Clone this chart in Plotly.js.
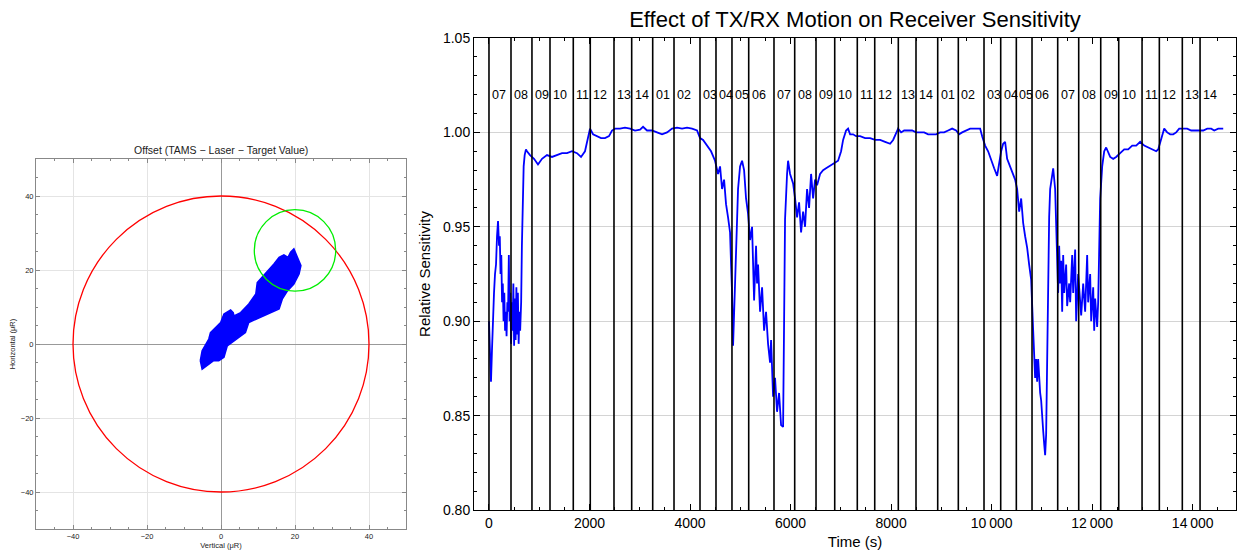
<!DOCTYPE html>
<html><head><meta charset="utf-8">
<script src="https://cdn.plot.ly/plotly-3.0.1.min.js"></script>
<style>html,body{margin:0;padding:0;background:#fff}#chart{width:1237px;height:552px}</style>
</head><body><div id="chart"></div><script>
// ---- Left chart: offset blob outline (vertical, horizontal in µR)
const blobVertical = [-5.6,-5.1,-3.3,-2.85,-0.1,0.8,2.6,3.3,3.5,5.3,7.5,9.4,9.8,11.6,14.3,15.7,17.0,18.1,18.8,19.7,20.7,21.6,21.1,19.7,18.0,16.6,15.7,12.5,9.8,7.5,6.6,3.5,1.7,0.8,-0.6,-2.0,-3.7,-5.1];
const blobHorizontal = [-4.5,-1.8,1.35,3.1,5.8,8.1,9.2,8.5,7.6,8.5,10.8,13.5,16.6,18.5,21.6,23.4,24.1,23.4,24.8,25.7,23.4,21.2,18.9,16.2,14.4,12.2,9.5,8.1,6.8,5.8,3.1,0.9,-0.5,-3.6,-4.5,-4.5,-5.9,-6.8];
const limitCircle = [0, 0, 40];     // centre x, centre y, radius
const targetCircle = [20, 25.3, 11];
const leftTicks = [-40, -20, 0, 20, 40];

// ---- Right chart: relative sensitivity vs time
const timeS = [0,20,40,60,80,100,120,140,160,180,200,215,230,245,260,275,290,305,320,335,350,365,380,395,410,425,440,455,470,485,500,515,530,545,560,575,590,605,620,640,655,670,690,710,735,
756,816,896,975,1055,1154,1254,1353,1453,1552,1652,1751,1831,1910,1970,2010,2070,2149,2229,2308,2388,2448,2507,2607,2706,2806,2905,3005,3065,3144,3244,3343,3443,3542,3642,3741,3841,3940,4040,4139,
4199,4259,4338,4418,4497,4557,4597,4637,4677,4716,4756,4796,4816,4836,4856,4876,4915,4955,4995,5035,5075,5114,5154,5194,5234,5254,5274,5313,5333,5353,5393,5433,5473,5512,5552,5592,5612,5652,5691,5731,5771,5811,5851,5871,5890,5930,5950,5990,
6050,6089,6129,6169,6209,6249,6288,6328,6368,6408,6448,6487,6527,6587,6647,6706,6766,6826,6885,6945,7005,7045,7104,7144,7184,7244,7303,7383,7482,7582,7681,7781,7880,7980,8040,8099,8139,8199,8259,8338,8418,8497,8577,8657,8736,8816,8895,8975,9055,9134,9214,9293,9353,9413,9492,9572,9671,9771,
9811,9870,9930,9990,10050,10109,10149,10189,10229,10268,10308,10348,10388,10428,10467,10507,10547,10587,10627,10666,10706,10746,10786,10826,10846,10865,10885,10905,10925,10945,10965,10985,11005,11025,11045,11064,11084,11104,11124,11144,11164,11204,11224,
11263,11283,11303,11323,11343,11363,11383,11403,11423,11443,11482,11502,11542,11562,11602,11622,11661,11681,11721,11761,11781,11821,11860,11900,11920,11960,11980,12020,12040,12059,12079,12099,12119,12139,12159,12199,12239,12278,12318,12358,12418,12477,12557,12637,12716,12796,12875,12955,13035,13114,13194,13273,13313,13373,13433,13492,13552,13612,13671,13731,13811,13890,13970,14049,14129,14209,14288,14368,14428,14507,14567,14607];
const relSensitivity = [0.900,0.880,0.868,0.885,0.905,0.915,0.925,0.930,0.945,0.953,0.940,0.945,0.925,0.935,0.910,0.920,0.900,0.915,0.895,0.905,0.892,0.910,0.905,0.935,0.900,0.915,0.888,0.910,0.895,0.920,0.887,0.912,0.890,0.918,0.893,0.915,0.888,0.905,0.895,0.910,0.940,0.970,0.982,0.988,0.991,
0.990,0.988,0.986,0.983,0.986,0.988,0.987,0.988,0.989,0.989,0.990,0.989,0.987,0.990,0.997,1.002,0.999,0.998,0.997,0.997,0.998,1.001,1.002,1.002,1.0025,1.002,1.001,1.0015,1.003,1.001,1.001,1.000,0.999,1.000,1.002,1.0025,1.002,1.0025,1.002,1.001,
0.997,0.996,0.993,0.990,0.985,0.978,0.982,0.970,0.975,0.962,0.955,0.947,0.930,0.915,0.887,0.905,0.945,0.970,0.982,0.985,0.980,0.965,0.957,0.943,0.950,0.935,0.911,0.940,0.920,0.930,0.905,0.918,0.895,0.905,0.888,0.878,0.890,0.860,0.870,0.852,0.862,0.845,0.844,0.900,0.954,0.978,0.985,0.978,
0.973,0.965,0.955,0.963,0.947,0.958,0.950,0.970,0.960,0.978,0.965,0.975,0.972,0.978,0.980,0.981,0.982,0.983,0.984,0.985,0.990,0.996,1.001,1.002,0.999,0.999,0.998,0.998,0.997,0.997,0.996,0.996,0.995,0.994,0.996,1.000,1.002,1.000,1.001,1.001,1.001,1.000,1.000,1.000,0.999,0.999,0.999,1.000,1.000,1.001,1.002,1.001,0.999,1.000,1.001,1.002,1.002,1.002,
0.998,0.993,0.990,0.986,0.981,0.977,0.985,0.990,0.994,0.995,0.986,0.983,0.981,0.978,0.975,0.970,0.958,0.965,0.952,0.945,0.939,0.930,0.922,0.895,0.885,0.870,0.880,0.868,0.880,0.870,0.862,0.858,0.852,0.842,0.835,0.829,0.840,0.880,0.931,0.955,0.970,0.978,0.981,
0.970,0.950,0.935,0.915,0.940,0.920,0.932,0.905,0.935,0.915,0.930,0.908,0.920,0.910,0.935,0.915,0.938,0.900,0.925,0.912,0.903,0.920,0.905,0.935,0.910,0.925,0.900,0.918,0.895,0.912,0.903,0.897,0.910,0.935,0.965,0.982,0.990,0.992,0.989,0.987,0.986,0.987,0.989,0.991,0.991,0.993,0.993,0.995,0.993,0.992,0.991,0.990,0.991,0.997,1.002,1.000,0.999,0.999,1.000,1.002,1.002,1.002,1.001,1.001,1.001,1.001,1.002,1.002,1.001,1.002,1.002,1.002];
const eventTimes = [0,438,855,1214,1677,2015,2487,2839,3257,3681,4198,4516,4834,5167,5670,6082,6506,6878,7327,7674,8143,8495,8927,9337,9848,10180,10491,10803,11314,11732,12170,12528,12992,13336,13793,14146];
const eventLabels = ['07','08','09','10','11','12','13','14','01','02','03','04','05','06','07','08','09','10','11','12','13','14','01','02','03','04','05','06','07','08','09','10','11','12','13','14'];
const eventLabelLevel = 1.02;
const timeTickVals = [0,2000,4000,6000,8000,10000,12000,14000];
const timeTickText = ['0','2000','4000','6000','8000','10\u2009000','12\u2009000','14\u2009000'];
const sensTickVals = [0.80,0.85,0.90,0.95,1.00,1.05];

const W = 1237, H = 552;
const px = v => v / W, py = v => 1 - v / H;

const traces = [
  {x: blobVertical.concat([blobVertical[0]]), y: blobHorizontal.concat([blobHorizontal[0]]), xaxis:'x', yaxis:'y',
   type:'scatter', mode:'lines', fill:'toself', fillcolor:'#0000ff', line:{color:'#0000ff', width:1.5}, hoverinfo:'skip'},
  {x: timeS, y: relSensitivity, xaxis:'x2', yaxis:'y2', type:'scatter', mode:'lines',
   line:{color:'#0000ff', width:1.8}, hoverinfo:'skip'}
];

const shapes = [
  {type:'circle', xref:'x', yref:'y', x0:limitCircle[0]-limitCircle[2], x1:limitCircle[0]+limitCircle[2],
   y0:limitCircle[1]-limitCircle[2], y1:limitCircle[1]+limitCircle[2], line:{color:'#ff0000', width:1.3}},
  {type:'circle', xref:'x', yref:'y', x0:targetCircle[0]-targetCircle[2], x1:targetCircle[0]+targetCircle[2],
   y0:targetCircle[1]-targetCircle[2], y1:targetCircle[1]+targetCircle[2], line:{color:'#00ee00', width:1.3}}
];
eventTimes.forEach(t => shapes.push({type:'line', xref:'x2', yref:'y2', x0:t, x1:t, y0:0.80, y1:1.05,
  line:{color:'#000', width:1.6}, layer:'above'}));

const annotations = [
  {text:'Offset (TAMS \u2212 Laser \u2212 Target Value)', xref:'paper', yref:'paper', x:px(221), y:py(150),
   xanchor:'center', yanchor:'middle', showarrow:false, font:{size:10.5, color:'#222'}}
];
eventTimes.forEach((t,i) => annotations.push({text:eventLabels[i], xref:'x2', yref:'y2', x:t, y:eventLabelLevel,
  xanchor:'left', yanchor:'middle', xshift:1, showarrow:false, font:{size:12.5, color:'#000'}}));

const leftAxis = {
  range:[-50,50], tickvals:leftTicks, ticks:'inside', ticklen:4, tickcolor:'#888',
  minor:{dtick:5, ticks:'inside', ticklen:2, tickcolor:'#888', showgrid:false},
  showline:true, mirror:'ticks', linecolor:'#888', linewidth:1,
  showgrid:true, gridcolor:'#e4e4e4', gridwidth:1,
  zeroline:true, zerolinecolor:'#999', zerolinewidth:1,
  tickfont:{size:7.5, color:'#222'}, fixedrange:true
};

const layout = {
  width:W, height:H, margin:{l:0, r:0, t:0, b:0}, showlegend:false,
  paper_bgcolor:'#fff', plot_bgcolor:'#fff',
  font:{family:'Liberation Sans, Arial, sans-serif', color:'#000'},
  title:{text:'Effect of TX/RX Motion on Receiver Sensitivity', x:px(855), xanchor:'center', xref:'paper',
    y:py(19), yanchor:'middle', yref:'paper', font:{size:22, color:'#000'}},
  xaxis: Object.assign({}, leftAxis, {domain:[px(36), px(406)], anchor:'y',
    title:{text:'Vertical (\u03bcR)', font:{size:7.5, color:'#222'}, standoff:2}}),
  yaxis: Object.assign({}, leftAxis, {domain:[py(529), py(159)], anchor:'x',
    title:{text:'Horizontal (\u03bcR)', font:{size:7.5, color:'#222'}, standoff:4}}),
  xaxis2: {domain:[px(474), px(1236)], anchor:'y2', range:[-298, 14861],
    tickvals:timeTickVals, ticktext:timeTickText, ticks:'inside', ticklen:6, tickcolor:'#000',
    minor:{dtick:500, tick0:0, ticks:'inside', ticklen:3, tickcolor:'#000', showgrid:false},
    showline:true, mirror:'ticks', linecolor:'#000', linewidth:1,
    showgrid:false, zeroline:false, tickfont:{size:14}, 
    title:{text:'Time (s)', font:{size:15}, standoff:6}},
  yaxis2: {domain:[py(510), py(38)], anchor:'x2', range:[0.80, 1.05],
    tickvals:sensTickVals, tickformat:'.2f', ticks:'inside', ticklen:6, tickcolor:'#000',
    minor:{dtick:0.01, tick0:0.8, ticks:'inside', ticklen:3, tickcolor:'#000', showgrid:false},
    showline:true, mirror:'ticks', linecolor:'#000', linewidth:1,
    showgrid:true, gridcolor:'#d4d4d4', gridwidth:1, zeroline:false, tickfont:{size:14},
    title:{text:'Relative Sensitivity', font:{size:15}, standoff:8}},
  shapes: shapes,
  annotations: annotations
};

Plotly.newPlot('chart', traces, layout, {displayModeBar:false, staticPlot:true});
</script></body></html>
